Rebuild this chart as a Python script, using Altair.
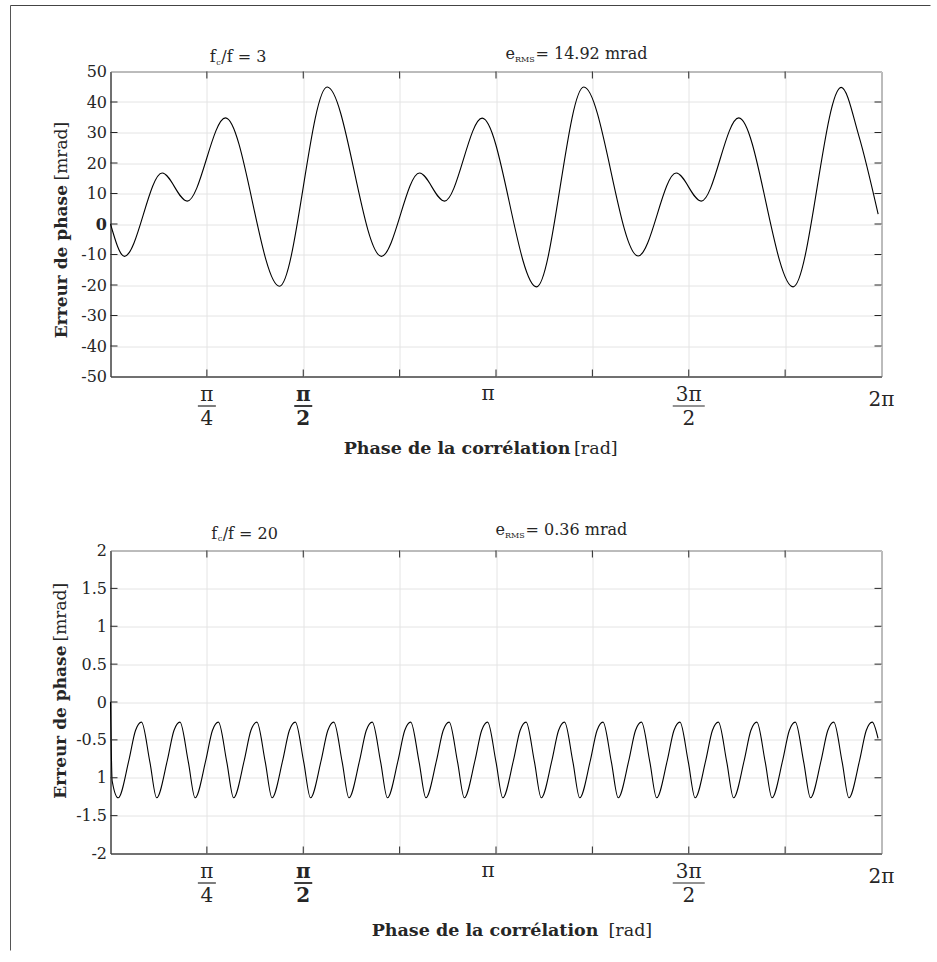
import altair as alt
import numpy as np
import pandas as pd

PI = float(np.pi)

# ---------------- data ----------------
# top panel: f_c/f = 3  (phase in rad, error in mrad)
top_phase = [0.0, 0.114, 0.421, 0.625, 0.937, 1.377, 1.766, 2.208, 2.518, 2.722,
             3.029, 3.472, 3.857, 4.300, 4.610, 4.814, 5.120, 5.563, 5.955, 6.098, 6.256]
top_err = [0.0, -10.6, 16.7, 7.5, 34.8, -20.4, 44.9, -10.6, 16.7, 7.5,
           34.7, -20.6, 44.9, -10.5, 16.7, 7.5, 34.8, -20.6, 44.8, 29.0, 3.2]

# bottom panel: f_c/f = 20
bot_phase = [
    0.0, 0.0136,
    0.0627, 0.1497, 0.2037, 0.2527, 0.3207,
    0.3761, 0.4631, 0.5171, 0.5661, 0.6341,
    0.6895, 0.7765, 0.8305, 0.8795, 0.9475,
    1.0030, 1.0900, 1.1440, 1.1930, 1.2610,
    1.3164, 1.4034, 1.4574, 1.5064, 1.5744,
    1.6298, 1.7168, 1.7708, 1.8198, 1.8878,
    1.9432, 2.0302, 2.0842, 2.1332, 2.2012,
    2.2566, 2.3436, 2.3976, 2.4466, 2.5146,
    2.5701, 2.6571, 2.7111, 2.7601, 2.8281,
    2.8835, 2.9705, 3.0245, 3.0735, 3.1415,
    3.1969, 3.2839, 3.3379, 3.3869, 3.4549,
    3.5103, 3.5973, 3.6513, 3.7003, 3.7683,
    3.8237, 3.9107, 3.9647, 4.0137, 4.0817,
    4.1372, 4.2242, 4.2782, 4.3272, 4.3952,
    4.4506, 4.5376, 4.5916, 4.6406, 4.7086,
    4.7640, 4.8510, 4.9050, 4.9540, 5.0220,
    5.0774, 5.1644, 5.2184, 5.2674, 5.3354,
    5.3908, 5.4778, 5.5318, 5.5808, 5.6488,
    5.7043, 5.7913, 5.8453, 5.8943, 5.9623,
    6.0177, 6.1047, 6.1587, 6.2077,
    6.255,
]
bot_err = [
    0.0, -1.04,
    -1.265, -0.77, -0.376, -0.266, -0.79,
    -1.265, -0.77, -0.376, -0.266, -0.79,
    -1.265, -0.77, -0.376, -0.266, -0.79,
    -1.265, -0.77, -0.376, -0.266, -0.79,
    -1.265, -0.77, -0.376, -0.266, -0.79,
    -1.265, -0.77, -0.376, -0.266, -0.79,
    -1.265, -0.77, -0.376, -0.266, -0.79,
    -1.265, -0.77, -0.376, -0.266, -0.79,
    -1.265, -0.77, -0.376, -0.266, -0.79,
    -1.265, -0.77, -0.376, -0.266, -0.79,
    -1.265, -0.77, -0.376, -0.266, -0.79,
    -1.265, -0.77, -0.376, -0.266, -0.79,
    -1.265, -0.77, -0.376, -0.266, -0.79,
    -1.265, -0.77, -0.376, -0.266, -0.79,
    -1.265, -0.77, -0.376, -0.266, -0.79,
    -1.265, -0.77, -0.376, -0.266, -0.79,
    -1.265, -0.77, -0.376, -0.266, -0.79,
    -1.265, -0.77, -0.376, -0.266, -0.79,
    -1.265, -0.77, -0.376, -0.266, -0.79,
    -1.265, -0.77, -0.376, -0.266,
    -0.48,
]

# axis ticks / labels
x_grid = [k * PI / 4 for k in range(9)]
frac_val = [PI / 4, PI / 2, 3 * PI / 2]
frac_num = ["π", "π", "3π"]
frac_den = ["4", "2", "2"]
frac_bold = [False, True, False]
single_val = [PI, 2 * PI]
single_txt = ["π", "2π"]

top_yticks = [-50, -40, -30, -20, -10, 0, 10, 20, 30, 40, 50]
bot_yticks = [-2, -1.5, -1, -0.5, 0, 0.5, 1, 1.5, 2]

# ---------------- styling ----------------
FONT = "DejaVu Serif"
DARK = "#262626"
GRIDC = "#e4e4e4"
W = 771


def one(text, x, y, size, weight="normal", align="left", angle=0, baseline="alphabetic"):
    return alt.Chart(pd.DataFrame({"k": [0]})).mark_text(
        text=text, font=FONT, fontSize=size, fontWeight=weight, align=align,
        angle=angle, baseline=baseline, color=DARK,
    ).encode(x=alt.value(x), y=alt.value(y))


def panel(phase, err, ydom, yvals, H, label_expr, label_weight, texts, extra=()):
    xs = alt.Scale(domain=[0, 2 * PI], nice=False, zero=False)
    ys = alt.Scale(domain=ydom, nice=False, zero=False)
    df = pd.DataFrame({"phase": phase, "err": err})

    line = alt.Chart(df).mark_line(color="black", strokeWidth=1.1, interpolate="monotone").encode(
        x=alt.X("phase:Q", scale=xs,
                axis=alt.Axis(values=x_grid, grid=True, gridColor=GRIDC, gridWidth=1,
                              labels=False, ticks=False, tickSize=0, domain=True,
                              domainColor=DARK, domainWidth=1, title=None)),
        y=alt.Y("err:Q", scale=ys,
                axis=alt.Axis(values=yvals, grid=True, gridColor=GRIDC, gridWidth=1,
                              ticks=False, tickSize=0, labelExpr=label_expr,
                              labelFont=FONT, labelFontSize=16, labelColor=DARK,
                              labelPadding=4, labelFontWeight=label_weight,
                              domainColor=DARK, domainWidth=1, title=None)),
    )

    xt_df = pd.DataFrame({"v": x_grid[1:-1]})
    yt_df = pd.DataFrame({"v": yvals[1:-1]})
    xenc = alt.X("v:Q", scale=xs, axis=None)
    yenc = alt.Y("v:Q", scale=ys, axis=None)
    xb = alt.Chart(xt_df).mark_rule(color=DARK, strokeWidth=1).encode(x=xenc, y=alt.value(H), y2=alt.value(H - 7))
    xtp = alt.Chart(xt_df).mark_rule(color=DARK, strokeWidth=1).encode(x=xenc, y=alt.value(0), y2=alt.value(7))
    yl = alt.Chart(yt_df).mark_rule(color=DARK, strokeWidth=1).encode(y=yenc, x=alt.value(0), x2=alt.value(7))
    yr = alt.Chart(yt_df).mark_rule(color=DARK, strokeWidth=1).encode(y=yenc, x=alt.value(W - 7), x2=alt.value(W))

    fr = alt.Chart(pd.DataFrame({"v": frac_val, "num": frac_num, "den": frac_den, "bold": frac_bold}))
    labels = []
    for b in (False, True):
        sub = fr.transform_filter("datum.bold" if b else "!datum.bold")
        w = "bold" if b else "normal"
        labels.append(sub.mark_text(font=FONT, fontSize=20, fontWeight=w, color=DARK, baseline="middle")
                      .encode(x=xenc, y=alt.value(H + 18), text="num:N"))
        labels.append(sub.mark_text(font=FONT, fontSize=20, fontWeight=w, color=DARK, baseline="middle")
                      .encode(x=xenc, y=alt.value(H + 42), text="den:N"))
    for n, b in zip(frac_num, frac_bold):
        half = 9 if len(n) == 1 else 16
        labels.append(
            fr.transform_filter(f"datum.num == '{n}' && datum.bold == {'true' if b else 'false'}")
            .mark_rule(color=DARK, strokeWidth=1.8 if b else 1.2, xOffset=-half, x2Offset=half)
            .encode(x=xenc, x2="v:Q", y=alt.value(H + 29.5))
        )
    sg = alt.Chart(pd.DataFrame({"v": single_val, "t": single_txt}))
    labels.append(sg.transform_filter("datum.t == 'π'")
                  .mark_text(font=FONT, fontSize=20, color=DARK, baseline="middle", dx=-8)
                  .encode(x=xenc, y=alt.value(H + 17.5), text="t:N"))
    labels.append(sg.transform_filter("datum.t == '2π'")
                  .mark_text(font=FONT, fontSize=20, color=DARK, baseline="middle")
                  .encode(x=xenc, y=alt.value(H + 23.5), text="t:N"))

    txt_layers = [one(*t) for t in texts]
    return (
        alt.layer(line, xb, xtp, yl, yr, *labels, *txt_layers, *extra)
        .resolve_axis(x="independent", y="independent")
        .properties(width=W, height=H)
    )


H1, H2 = 305, 303

border = [
    alt.Chart(pd.DataFrame({"k": [0]})).mark_rule(color="#444444", strokeWidth=1).encode(
        x=alt.value(-100), x2=alt.value(820), y=alt.value(-66)),
    alt.Chart(pd.DataFrame({"k": [0]})).mark_rule(color="#555555", strokeWidth=1).encode(
        x=alt.value(-100), y=alt.value(-66), y2=alt.value(879)),
]

top_texts = [
    ("f", 99.3, -9.3, 16),
    ("c", 105.8, -7.0, 8),
    ("/f = 3", 110.8, -9.3, 16),
    ("e", 395, -12.7, 16),
    ("RMS", 404.5, -9.5, 8),
    ("= 14.92 mrad", 425, -12.7, 16),
    ("Phase de la corrélation", 460, 382, 17.5, "bold", "right"),
    ("[rad]", 463.5, 382, 17.5),
    ("Erreur de phase", -48.3, 113.5, 17, "bold", "right", 270, "middle"),
    ("[mrad]", -48.3, 109, 17, "normal", "left", 270, "middle"),
]
bot_texts = [
    ("f", 100.7, -11.7, 16),
    ("c", 107.2, -9.4, 8),
    ("/f = 20", 112.2, -11.7, 16),
    ("e", 385, -16, 16),
    ("RMS", 394.5, -12.8, 8),
    ("= 0.36 mrad", 415, -16, 16),
    ("Phase de la corrélation", 488, 385, 17.5, "bold", "right"),
    ("[rad]", 498, 385, 17.5),
    ("Erreur de phase", -50, 95, 17, "bold", "right", 270, "middle"),
    ("[mrad]", -50, 91, 17, "normal", "left", 270, "middle"),
]

top = panel(top_phase, top_err, [-50, 50], top_yticks, H1,
            "(datum.value < 0 ? '-' : '') + abs(datum.value)",
            {"condition": {"test": "datum.value == 0", "value": "bold"}, "value": "normal"},
            top_texts, border)
bottom = panel(bot_phase, bot_err, [-2, 2], bot_yticks, H2,
               "datum.value == -1 ? '1' : (datum.value < 0 ? '-' : '') + abs(datum.value)",
               "normal", bot_texts)

chart = alt.vconcat(top, bottom, spacing=174, bounds="flush").properties(
    padding={"left": 9.5, "top": 4.5, "right": 0, "bottom": 0},
    background="white",
).configure_view(stroke=DARK, strokeWidth=1)

chart.save("out.html", embed_options={"renderer": "svg", "actions": False})
